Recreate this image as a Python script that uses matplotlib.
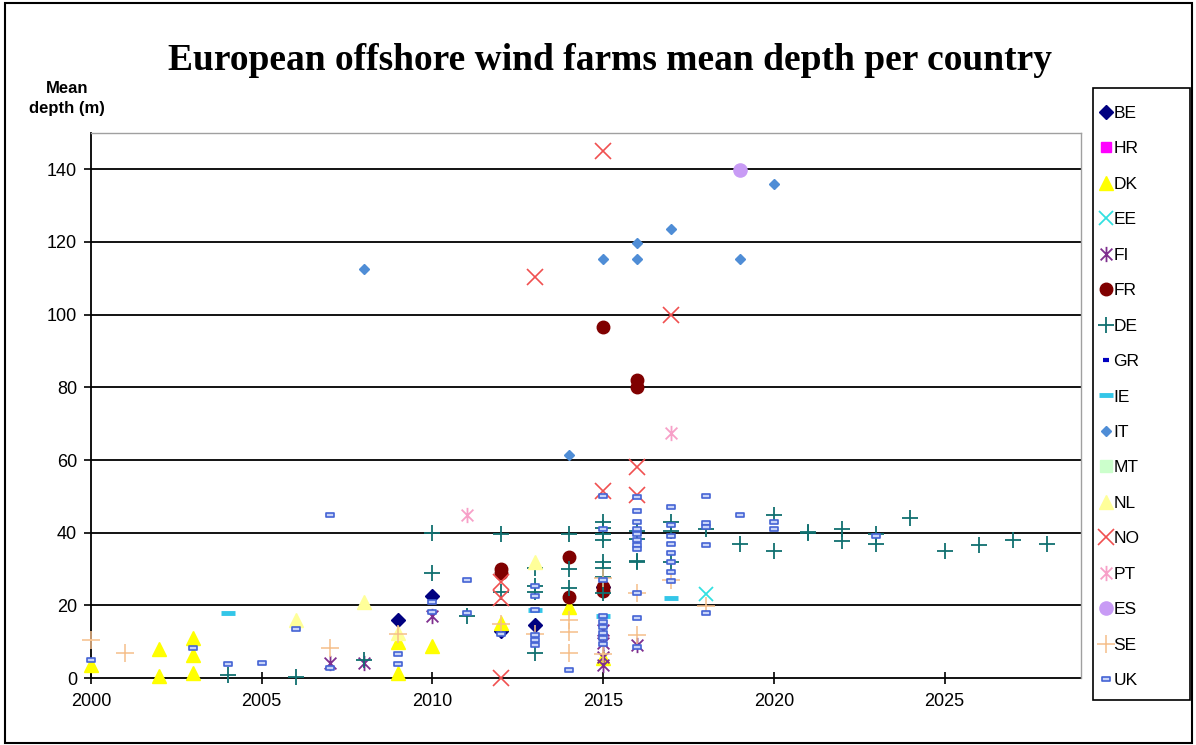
import matplotlib.pyplot as plt
from matplotlib.path import Path
from matplotlib.patches import Rectangle

# commissioning year / mean water depth (m) for each country
be_year = [2009, 2010, 2012, 2013, 2015]
be_depth = [16, 22.5, 13, 14.7, 25]
hr_year = []
hr_depth = []
dk_year = [2000, 2002, 2002, 2003, 2003, 2003, 2009, 2009, 2010, 2012, 2014, 2015]
dk_depth = [3.6, 8, 0.5, 11, 6.4, 1.5, 1.4, 10, 8.9, 15.2, 19.6, 5.5]
ee_year = [2018]
ee_depth = [23]
fi_year = [2007, 2008, 2010, 2015, 2015, 2015, 2015, 2016]
fi_depth = [4.1, 4.2, 17, 13.3, 9.7, 5.8, 3.5, 9]
fr_year = [2012, 2012, 2014, 2014, 2015, 2015, 2015, 2016, 2016]
fr_depth = [30, 29, 33.4, 22.4, 96.5, 25, 24, 82, 80]
de_year = [2004, 2006, 2008, 2010, 2010, 2011, 2012, 2012,
           2013, 2013, 2013, 2013, 2014, 2014, 2014,
           2015, 2015, 2015, 2015, 2015, 2015, 2015, 2015,
           2016, 2016, 2016, 2016, 2017, 2017, 2017,
           2018, 2019, 2020, 2020, 2021, 2021, 2022, 2022,
           2023, 2023, 2024, 2025, 2026, 2027, 2028]
de_depth = [0.8, 0.3, 5, 40, 28.8, 17, 39.5, 23.8,
            30.4, 25.2, 23.8, 6.9, 39.5, 29.9, 24.9,
            43, 41.4, 39.5, 38, 32, 30.4, 27.7, 23.4,
            40.4, 38.2, 32.3, 31.8, 43, 40.4, 32,
            41, 37, 45, 35, 39.8, 40.2, 41, 37.7,
            39.5, 37, 44, 35, 36.5, 38, 37]
gr_year = []
gr_depth = []
ie_year = [2004, 2013, 2015, 2017]
ie_depth = [17.9, 18.8, 17, 22]
it_year = [2008, 2014, 2015, 2016, 2016, 2017, 2019, 2020]
it_depth = [112.5, 61.4, 115.3, 115.3, 119.8, 123.7, 115.3, 136]
mt_year = []
mt_depth = []
nl_year = [2006, 2008, 2009, 2013]
nl_depth = [16, 21, 12.3, 32]
no_year = [2012, 2012, 2012, 2013, 2015, 2015, 2016, 2016, 2017]
no_depth = [0, 26.5, 22, 110.5, 145, 51.5, 58, 50.5, 99.8]
pt_year = [2011, 2017]
pt_depth = [45, 67.3]
es_year = [2019]
es_depth = [139.8]
se_year = [2000, 2001, 2007, 2009, 2012, 2013, 2014, 2014, 2014,
           2015, 2015, 2016, 2016, 2017, 2018]
se_depth = [10.5, 7, 8.3, 12, 15, 12, 16, 12.8, 6.9,
            27.5, 6.5, 23.3, 11.9, 27, 19.7]
uk_year = [2000, 2003, 2004, 2005, 2006, 2007, 2007, 2009, 2009,
           2010, 2010, 2011, 2011, 2012,
           2013, 2013, 2013, 2013, 2013, 2013, 2014,
           2015, 2015, 2015, 2015, 2015, 2015, 2015, 2015, 2015,
           2016, 2016, 2016, 2016, 2016, 2016, 2016, 2016, 2016, 2016, 2016,
           2017, 2017, 2017, 2017, 2017, 2017, 2017, 2017,
           2018, 2018, 2018, 2018, 2018, 2019, 2020, 2020, 2023]
uk_depth = [5, 8.3, 3.9, 4, 13.5, 45, 2.8, 3.9, 6.5,
            18.3, 21, 27.1, 18, 12.2,
            25.2, 22.7, 18.8, 11.9, 10.5, 9.1, 2.2,
            50, 41, 27, 17, 15.5, 14, 12.5, 11, 9.5,
            49.8, 46, 43, 41, 39.5, 38, 36.5, 35.4, 23.5, 16.6, 8.6,
            47, 42, 39, 36.8, 34.5, 31.8, 29.3, 26.6,
            50, 42.8, 41.5, 36.5, 17.9, 45, 43, 41, 39]

# custom marker shapes
asterisk = Path([(-1, -1), (1, 1), (-1, 1), (1, -1), (0, -1.3), (0, 1.3)],
                [Path.MOVETO, Path.LINETO] * 3)
ukbox = Path([(-1, -0.6), (1, -0.6), (1, 0.6), (-1, 0.6), (-1, -0.6)],
             [Path.MOVETO, Path.LINETO, Path.LINETO, Path.LINETO, Path.CLOSEPOLY])

# label, x, y, marker, size, face, edge, edge width
series = [
    ("BE", be_year, be_depth, "D", 7.5, "#000080", "#000080", 1),
    ("HR", hr_year, hr_depth, "s", 7, "#FF00FF", "#FF00FF", 1),
    ("DK", dk_year, dk_depth, "^", 10, "#FFFF00", "#FFFF00", 1),
    ("EE", ee_year, ee_depth, "x", 10, "#33E0E0", "#33E0E0", 1.3),
    ("FI", fi_year, fi_depth, asterisk, 11, "none", "#7F2F8F", 1.3),
    ("FR", fr_year, fr_depth, "o", 9, "#800000", "#800000", 1),
    ("DE", de_year, de_depth, "+", 12, "#107070", "#107070", 1.3),
    ("GR", gr_year, gr_depth, "_", 5, "#0000C0", "#0000C0", 3),
    ("IE", ie_year, ie_depth, "_", 10, "#33C6E8", "#33C6E8", 3.5),
    ("IT", it_year, it_depth, "D", 5.5, "#4F8DD6", "#4F8DD6", 1),
    ("MT", mt_year, mt_depth, "s", 8, "#CCFFCC", "#CCFFCC", 1),
    ("NL", nl_year, nl_depth, "^", 10, "#FFFF99", "#FFFF99", 1),
    ("NO", no_year, no_depth, "x", 11, "#F05050", "#F05050", 1.2),
    ("PT", pt_year, pt_depth, asterisk, 11, "none", "#F7A0C8", 1.3),
    ("ES", es_year, es_depth, "o", 9.5, "#C89BF5", "#C89BF5", 1),
    ("SE", se_year, se_depth, "+", 13, "#F5BF8A", "#F5BF8A", 1.1),
    ("UK", uk_year, uk_depth, ukbox, 5.5, "#C8D4F8", "#4463D4", 1.2),
]

fig = plt.figure(figsize=(11.96, 7.45), dpi=100)
ax = fig.add_axes([0.0761, 0.0899, 0.8278, 0.7316])

handles = []
for label, xs, ys, mk, ms, fc, ec, mew in series:
    h, = ax.plot(xs, ys, linestyle="none", marker=mk, markersize=ms,
                 markerfacecolor=fc, markeredgecolor=ec, markeredgewidth=mew,
                 label=label, clip_on=False, zorder=3)
    handles.append(h)

ax.set_xlim(2000, 2029)
ax.set_ylim(0, 150)
ax.set_xticks(range(2000, 2026, 5))
ax.set_yticks(range(0, 141, 20))
for v in range(20, 141, 20):
    ax.axhline(v, color="black", linewidth=1.3, zorder=1)

for side in ("top", "right"):
    ax.spines[side].set_color("#A0A0A0")
    ax.spines[side].set_linewidth(1)
for side in ("left", "bottom"):
    ax.spines[side].set_color("black")
    ax.spines[side].set_linewidth(1.3)
    ax.spines[side].set_zorder(2)

ax.tick_params(axis="x", direction="inout", length=9, width=1.2,
               labelsize=13, pad=6)
ax.tick_params(axis="y", direction="out", length=5, width=1.2,
               labelsize=13, pad=5)
for lbl in ax.get_xticklabels() + ax.get_yticklabels():
    lbl.set_fontfamily("Liberation Sans")

fig.text(0.51, 0.919, "European offshore wind farms mean depth per country",
         ha="center", va="center", fontsize=27, fontweight="bold",
         family="Liberation Serif")
fig.text(0.056, 0.868, "Mean\ndepth (m)", ha="center", va="center",
         fontsize=12, fontweight="bold", linespacing=1.4,
         family=["Liberation Sans Narrow", "Liberation Sans"])

# legend entries without their own frame, boxed separately
fig.legend(handles=handles, loc="upper left",
           bbox_to_anchor=(1091 / 1196, 1 - 97 / 745), frameon=False,
           handlelength=0.7, handletextpad=0.1, labelspacing=1.17,
           borderpad=0, prop={"family": "Liberation Sans", "size": 12.5})
fig.patches.append(Rectangle((1093 / 1196, 1 - 700 / 745), 97 / 1196, 612 / 745,
                             transform=fig.transFigure, fill=False,
                             edgecolor="black", linewidth=1.2))

# outer chart border
fig.patches.append(Rectangle((0.004, 0.003), 0.993, 0.993, transform=fig.transFigure,
                             fill=False, edgecolor="black", linewidth=1.5))

fig.savefig("out.png", dpi=100)
